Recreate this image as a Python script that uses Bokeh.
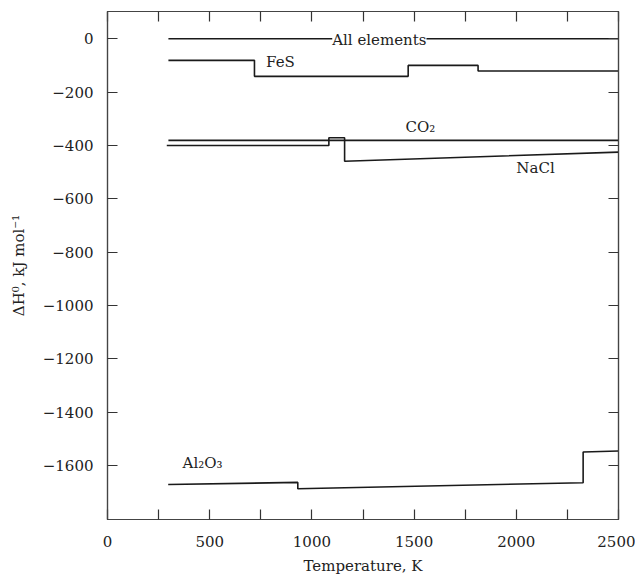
from bokeh.plotting import figure
from bokeh.models import FixedTicker, LinearAxis, Label, Range1d
from bokeh.embed import file_html
from bokeh.resources import INLINE

# ---- data ----
elem_T = [298, 2500]
elem_H = [0, 0]
fes_T = [298, 719, 719, 1471, 1471, 1813, 1813, 2500]
fes_H = [-81, -81, -141, -141, -100, -100, -121, -121]
co2_T = [298, 2500]
co2_H = [-381, -381]
nacl_T = [290, 1083, 1083, 1160, 1160, 2500]
nacl_H = [-400, -400, -371, -371, -459, -425]
al_T = [297, 931, 931, 2327, 2327, 2500]
al_H = [-1671, -1663, -1687, -1664, -1549, -1545]

x_major = [0, 500, 1000, 1500, 2000, 2500]
x_minor = [250, 750, 1250, 1750, 2250]
y_ticks = [0, -200, -400, -600, -800, -1000, -1200, -1400, -1600]

label_texts = ["All elements", "FeS", "CO₂", "NaCl", "Al₂O₃"]
label_T = [1330, 846, 1531, 2094, 465]
label_H = [-5, -89, -332, -486, -1589]

FONT = "DejaVu Serif"
LC = "#1a1a1a"

p = figure(width=635, height=579, output_backend="svg", toolbar_location=None,
           x_range=Range1d(0, 2500), y_range=Range1d(-1802, 102),
           min_border_left=107, min_border_right=17, min_border_top=11,
           min_border_bottom=60)
p.grid.visible = False
p.outline_line_color = "#444444"
p.outline_line_width = 1.2

def style_axis(ax, labels=True, ticks=None):
    ax.axis_line_color = "#444444"
    ax.axis_line_width = 1.2
    ax.major_tick_in = 10
    ax.major_tick_out = 0
    ax.minor_tick_in = 0
    ax.minor_tick_out = 0
    ax.major_tick_line_color = "#333333"
    ax.major_tick_line_width = 1.2
    ax.major_label_text_font = FONT
    ax.major_label_text_font_size = "15px"
    ax.major_label_text_color = "#222222"
    ax.axis_label_text_font = FONT
    ax.axis_label_text_font_size = "15px"
    ax.axis_label_text_font_style = "normal"
    ax.axis_label_text_color = "#222222"
    if not labels:
        ax.major_label_overrides = {t: "" for t in ticks}
        ax.major_label_standoff = 0

xt = FixedTicker(ticks=x_major, minor_ticks=x_minor)
yt = FixedTicker(ticks=y_ticks)

xa = p.xaxis[0]
xa.ticker = xt
style_axis(xa)
xa.minor_tick_in = 10
xa.minor_tick_line_color = "#333333"
xa.minor_tick_line_width = 1.2
xa.major_label_standoff = 16
xa.axis_label = "Temperature, K"
xa.axis_label_standoff = 7

ya = p.yaxis[0]
ya.ticker = yt
style_axis(ya)
ya.major_label_standoff = 14
ya.axis_label = "ΔH⁰, kJ mol⁻¹"
ya.axis_label_standoff = 12
ya.major_label_overrides = {v: (f"−{abs(v)}" if v < 0 else str(v)) for v in y_ticks}

top = LinearAxis(ticker=FixedTicker(ticks=x_major, minor_ticks=x_minor))
style_axis(top, labels=False, ticks=x_major)
top.minor_tick_in = 10
top.minor_tick_line_color = "#333333"
top.minor_tick_line_width = 1.2
p.add_layout(top, "above")

right = LinearAxis(ticker=FixedTicker(ticks=y_ticks))
style_axis(right, labels=False, ticks=y_ticks)
p.add_layout(right, "right")

for T, H in [(elem_T, elem_H), (fes_T, fes_H), (co2_T, co2_H), (nacl_T, nacl_H), (al_T, al_H)]:
    p.line(T, H, line_color=LC, line_width=1.6)

for i, (t, x, y) in enumerate(zip(label_texts, label_T, label_H)):
    lab = Label(x=x, y=y, text=t, text_font=FONT, text_font_size="15px",
                text_align="center", text_baseline="middle", text_color="#222222")
    if i == 0:
        lab.background_fill_color = "white"
        lab.background_fill_alpha = 1.0
    p.add_layout(lab)

open("out.html", "w").write(file_html(p, INLINE))
